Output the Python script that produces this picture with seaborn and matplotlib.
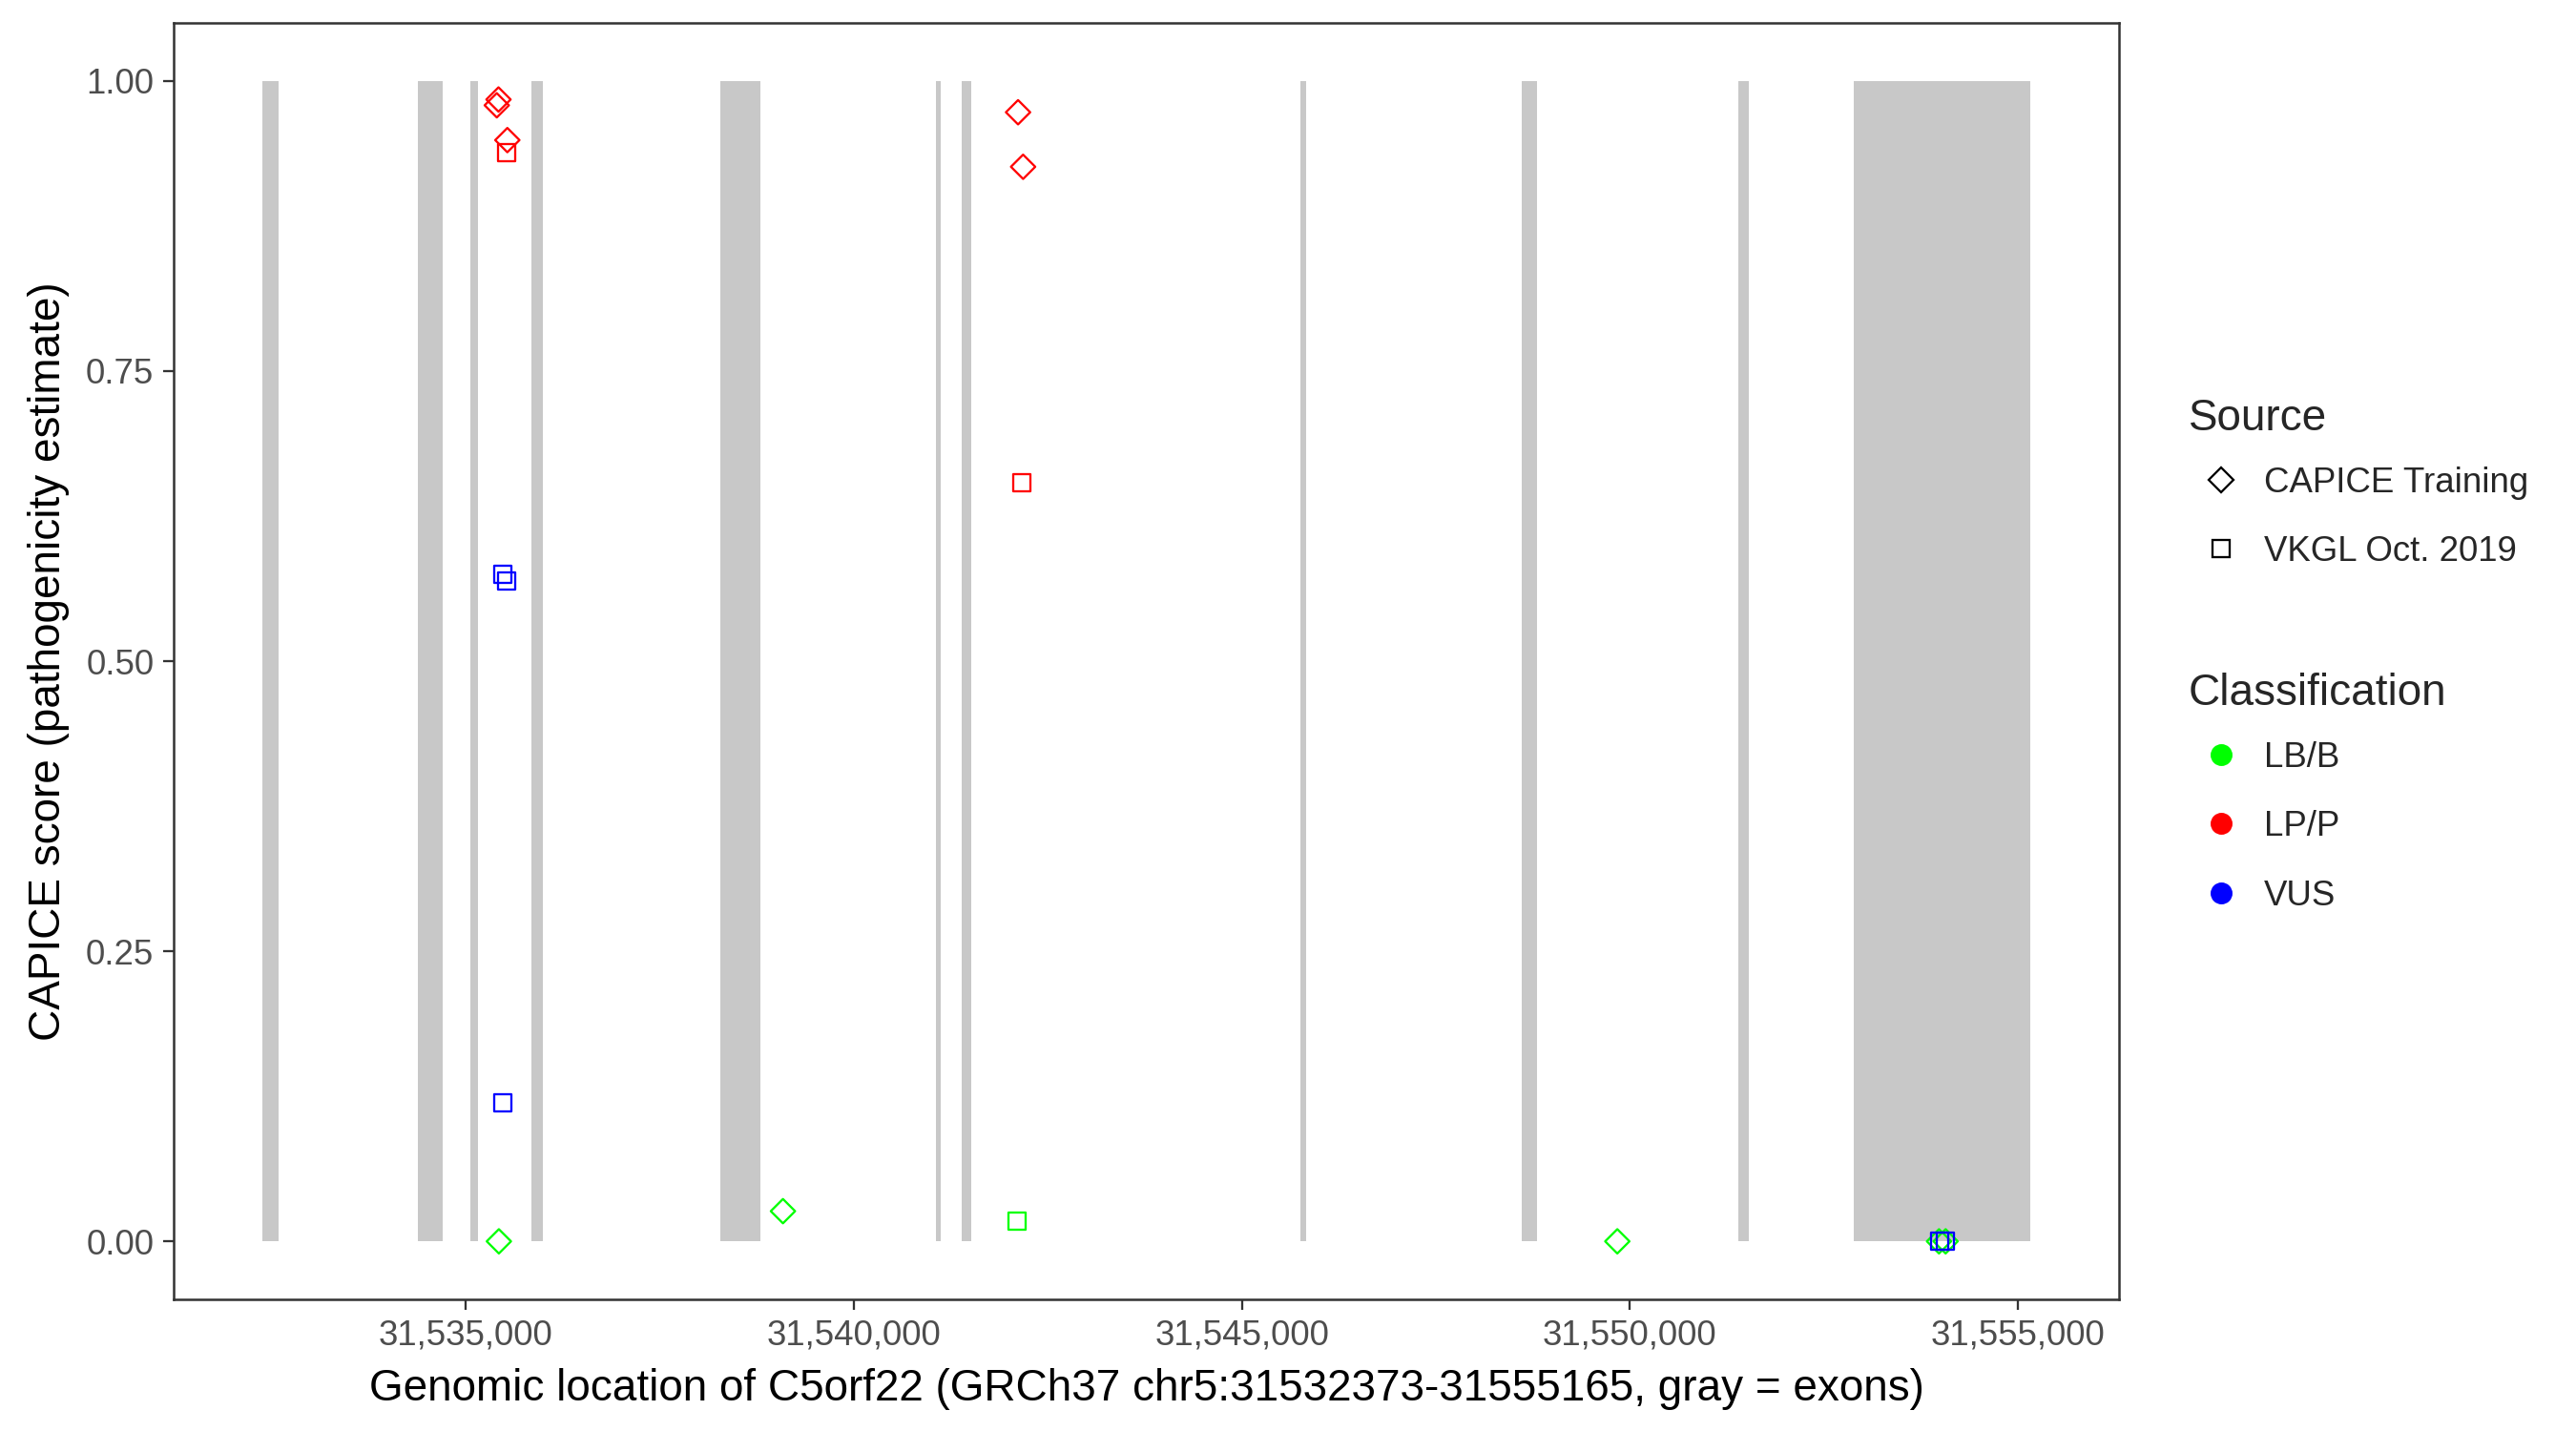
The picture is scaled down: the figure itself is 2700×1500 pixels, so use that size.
import numpy as np
import pandas as pd
import matplotlib
matplotlib.use("Agg")
import matplotlib.pyplot as plt
import seaborn as sns
from matplotlib.lines import Line2D

# ---------------- data ----------------
gene_start = 31532373
gene_end = 31555165

exon_start = [31532373, 31534377, 31535063, 31535848, 31538283, 31541057,
              31541391, 31545753, 31548603, 31551404, 31552892]
exon_end = [31532585, 31534706, 31535151, 31535995, 31538799, 31541123,
            31541513, 31545826, 31548801, 31551538, 31555165]

capice_pos = [31535420, 31535398, 31535534, 31542116, 31542181,
              31535425, 31539086, 31549839, 31553985, 31554070]
capice_score = [0.984, 0.979, 0.949, 0.973, 0.926,
                0.0, 0.026, 0.0, 0.0, 0.0]
capice_class = ["LP/P", "LP/P", "LP/P", "LP/P", "LP/P",
                "LB/B", "LB/B", "LB/B", "LB/B", "LB/B"]

vkgl_pos = [31535523, 31542170, 31535479, 31535523, 31535479,
            31542101, 31553990, 31554065]
vkgl_score = [0.938, 0.654, 0.5745, 0.5687, 0.1195,
              0.0175, 0.0, 0.0]
vkgl_class = ["LP/P", "LP/P", "VUS", "VUS", "VUS",
              "LB/B", "VUS", "VUS"]

sources = ["CAPICE Training", "VKGL Oct. 2019"]
classes = ["LB/B", "LP/P", "VUS"]
class_colors = ["#00FF00", "#FF0000", "#0000FF"]

x_ticks = [31535000, 31540000, 31545000, 31550000, 31555000]
x_tick_labels = ["31,535,000", "31,540,000", "31,545,000", "31,550,000", "31,555,000"]
y_ticks = [0.0, 0.25, 0.5, 0.75, 1.0]
y_tick_labels = ["0.00", "0.25", "0.50", "0.75", "1.00"]

x_title = "Genomic location of C5orf22 (GRCh37 chr5:31532373-31555165, gray = exons)"
y_title = "CAPICE score (pathogenicity estimate)"

# ---------------- styling ----------------
sns.set_theme(style="white")
plt.rcParams["font.family"] = ["Liberation Sans", "DejaVu Sans"]

fig = plt.figure(figsize=(9, 5), dpi=300)
ax = fig.add_axes([182 / 2700, 1 - 1362 / 1500, (2221 - 182) / 2700, (1362 - 24) / 1500])

# exons
ax.bar(exon_start, [1.0] * len(exon_start),
       width=np.array(exon_end) - np.array(exon_start),
       bottom=0, align="edge", color="#C8C8C8", linewidth=0, zorder=1)

df = pd.DataFrame({
    "pos": capice_pos + vkgl_pos,
    "score": capice_score + vkgl_score,
    "cls": capice_class + vkgl_class,
    "source": [sources[0]] * len(capice_pos) + [sources[1]] * len(vkgl_pos),
})

pal = dict(zip(classes, class_colors))
sns.scatterplot(data=df, x="pos", y="score", hue="cls", style="source",
                hue_order=classes, style_order=sources,
                markers={sources[0]: "D", sources[1]: "s"},
                palette=pal, s=18.7, ax=ax, legend=False, zorder=3)
coll = ax.collections[-1]
fc = coll.get_facecolors()
coll.set_edgecolors(fc)
coll.set_facecolors("none")
coll.set_linewidths(0.55)

rng = gene_end - gene_start
ax.set_xlim(gene_start - 0.05 * rng, gene_end + 0.05 * rng)
ax.set_ylim(-0.05, 1.05)
ax.set_xticks(x_ticks)
ax.set_xticklabels(x_tick_labels)
ax.set_yticks(y_ticks)
ax.set_yticklabels(y_tick_labels)
ax.tick_params(axis="both", which="major", length=2.75, width=0.55, color="#333333",
               labelsize=8.8, labelcolor="#4D4D4D", pad=2.2, bottom=True, left=True)
for sp in ax.spines.values():
    sp.set_color("#333333")
    sp.set_linewidth(0.6)
    sp.set_visible(True)
ax.grid(False)
ax.set_facecolor("white")
ax.set_xlabel(x_title, fontsize=11, color="black", labelpad=4)
ax.set_ylabel(y_title, fontsize=11, color="black", labelpad=4)

# legends
LS = 1.02
TITLE_SEP = 6.7  # points between legend title and first entry

src_handles = [
    Line2D([], [], linestyle="none", marker="D", markersize=4.3, markerfacecolor="none",
           markeredgecolor="black", markeredgewidth=0.55),
    Line2D([], [], linestyle="none", marker="s", markersize=4.3, markerfacecolor="none",
           markeredgecolor="black", markeredgewidth=0.55),
]
leg1 = ax.legend(src_handles, sources, title="Source", loc="upper left",
                 bbox_to_anchor=(2294 / 2700, 1 - 417 / 1500), bbox_transform=fig.transFigure,
                 frameon=False, fontsize=8.8, title_fontsize=11, borderpad=0,
                 handlelength=1.85, handletextpad=0.3, labelspacing=LS, alignment="left",
                 borderaxespad=0)
leg1._legend_box.sep = TITLE_SEP
ax.add_artist(leg1)

cls_handles = [Line2D([], [], linestyle="none", marker="o", markersize=4.5,
                      markerfacecolor=c, markeredgecolor=c) for c in class_colors]
leg2 = ax.legend(cls_handles, classes, title="Classification", loc="upper left",
                 bbox_to_anchor=(2294 / 2700, 1 - 705 / 1500), bbox_transform=fig.transFigure,
                 frameon=False, fontsize=8.8, title_fontsize=11, borderpad=0,
                 handlelength=1.85, handletextpad=0.3, labelspacing=LS, alignment="left",
                 borderaxespad=0)
leg2._legend_box.sep = TITLE_SEP

fig.savefig("out.png", dpi=300, facecolor="white")
